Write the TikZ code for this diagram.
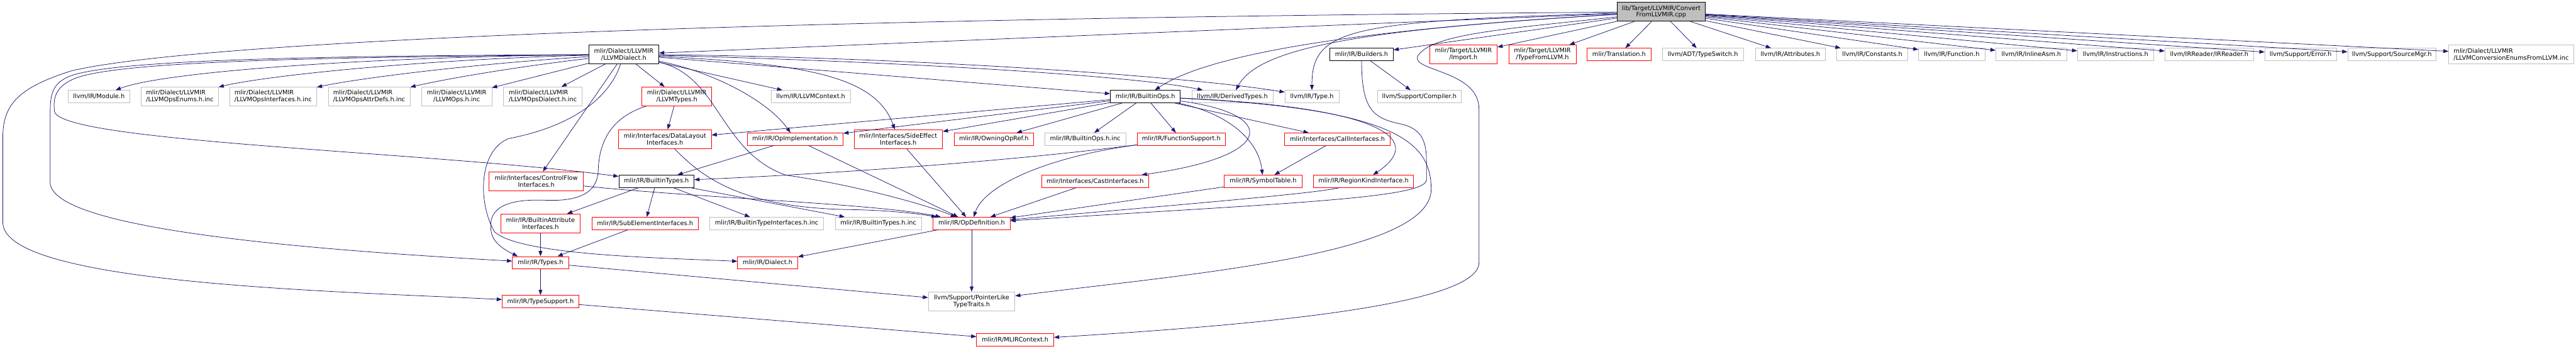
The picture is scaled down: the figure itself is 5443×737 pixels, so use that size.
\documentclass[tikz,border=0pt]{standalone}
\usepackage{fontspec}
\setmainfont{DejaVu Sans}
\usepackage{xcolor}
\usepackage{tikz}
\usetikzlibrary{arrows.meta}
\definecolor{EdgeBlue}{RGB}{25,25,112}
\definecolor{ExtGray}{RGB}{191,191,191}
\definecolor{RootGray}{RGB}{191,191,191}
\definecolor{TruncRed}{RGB}{255,0,0}

\begin{document}
\begin{tikzpicture}[x=1pt,y=-1pt,
  fbox/.style={rectangle,draw,fill=white,line width=1pt,inner xsep=3pt,inner ysep=1pt,
    minimum height=26pt,font=\fontsize{13}{14.3}\selectfont},
  gbox/.style={fbox,draw=ExtGray},
  rbox/.style={fbox,draw=TruncRed},
  kbox/.style={fbox,draw=black},
  rootbox/.style={fbox,draw=black,fill=RootGray},
  two/.style={minimum height=40pt,align=center},
  twol/.style={minimum height=40pt,align=left},
  arr/.style={-{Triangle[length=11pt,width=8pt]},line width=1pt,draw=EdgeBlue}
]
\useasboundingbox (0,0) rectangle (5443,737);

\node[rootbox,two,minimum width=186pt] (root) at (3510,25) {lib/Target/LLVMIR/Convert\\FromLLVMIR.cpp};

\node[kbox,two,minimum width=148pt] (dialect) at (1318,115) {mlir/Dialect/LLVMIR\\/LLVMDialect.h};
\node[kbox,minimum width=134pt] (builders) at (2877,115) {mlir/IR/Builders.h};
\node[rbox,two,minimum width=143pt] (import) at (3092,115) {mlir/Target/LLVMIR\\/Import.h};
\node[rbox,two,minimum width=142pt] (typefrom) at (3259,115) {mlir/Target/LLVMIR\\/TypeFromLLVM.h};
\node[rbox,minimum width=135pt] (translation) at (3421,115) {mlir/Translation.h};
\node[gbox,minimum width=171pt] (typeswitch) at (3598,115) {llvm/ADT/TypeSwitch.h};
\node[gbox,minimum width=148pt] (attributes) at (3783,115) {llvm/IR/Attributes.h};
\node[gbox,minimum width=150pt] (constants) at (3956,115) {llvm/IR/Constants.h};
\node[gbox,minimum width=140pt] (function) at (4124,115) {llvm/IR/Function.h};
\node[gbox,minimum width=150pt] (inlineasm) at (4292,115) {llvm/IR/InlineAsm.h};
\node[gbox,minimum width=161pt] (instructions) at (4470,115) {llvm/IR/Instructions.h};
\node[gbox,minimum width=187pt] (irreader) at (4668,115) {llvm/IRReader/IRReader.h};
\node[gbox,minimum width=151pt] (error) at (4861,115) {llvm/Support/Error.h};
\node[gbox,minimum width=187pt] (sourcemgr) at (5054,115) {llvm/Support/SourceMgr.h};
\node[gbox,twol,minimum width=264pt] (convenums) at (5306,115) {mlir/Dialect/LLVMIR\\/LLVMConversionEnumsFromLLVM.inc};

\node[gbox,minimum width=130pt] (module) at (209,204) {llvm/IR/Module.h};
\node[gbox,twol,minimum width=163pt] (opsenums) at (380,204) {mlir/Dialect/LLVMIR\\/LLVMOpsEnums.h.inc};
\node[gbox,twol,minimum width=184pt] (opsifaces) at (577,204) {mlir/Dialect/LLVMIR\\/LLVMOpsInterfaces.h.inc};
\node[gbox,twol,minimum width=173pt] (opsattr) at (780,204) {mlir/Dialect/LLVMIR\\/LLVMOpsAttrDefs.h.inc};
\node[gbox,two,minimum width=148pt] (opsinc) at (965,204) {mlir/Dialect/LLVMIR\\/LLVMOps.h.inc};
\node[gbox,twol,minimum width=166pt] (opsdialect) at (1147,204) {mlir/Dialect/LLVMIR\\/LLVMOpsDialect.h.inc};
\node[rbox,two,minimum width=148pt] (llvmtypes) at (1430,204) {mlir/Dialect/LLVMIR\\/LLVMTypes.h};
\node[gbox,minimum width=167pt] (context) at (1713,204) {llvm/IR/LLVMContext.h};
\node[kbox,minimum width=148pt] (builtinops) at (2420,204) {mlir/IR/BuiltinOps.h};
\node[gbox,minimum width=172pt] (derived) at (2604,204) {llvm/IR/DerivedTypes.h};
\node[gbox,minimum width=114pt] (type) at (2772,204) {llvm/IR/Type.h};
\node[gbox,minimum width=178pt] (compiler) at (2999,204) {llvm/Support/Compiler.h};

\node[rbox,two,minimum width=196pt] (datalayout) at (1405,294) {mlir/Interfaces/DataLayout\\Interfaces.h};
\node[rbox,minimum width=203pt] (opimpl) at (1680,294) {mlir/IR/OpImplementation.h};
\node[rbox,two,minimum width=187pt] (sideeffect) at (1898,294) {mlir/Interfaces/SideEffect\\Interfaces.h};
\node[rbox,minimum width=168pt] (owning) at (2100,294) {mlir/IR/OwningOpRef.h};
\node[gbox,minimum width=171pt] (builtinopsinc) at (2293,294) {mlir/IR/BuiltinOps.h.inc};
\node[rbox,minimum width=185pt] (funcsupport) at (2496,294) {mlir/IR/FunctionSupport.h};
\node[rbox,minimum width=223pt] (callifaces) at (2826,294) {mlir/Interfaces/CallInterfaces.h};

\node[rbox,two,minimum width=199pt] (controlflow) at (1133,383) {mlir/Interfaces/ControlFlow\\Interfaces.h};
\node[kbox,minimum width=159pt] (builtintypes) at (1387,383) {mlir/IR/BuiltinTypes.h};
\node[rbox,minimum width=227pt] (cast) at (2314,383) {mlir/Interfaces/CastInterfaces.h};
\node[rbox,minimum width=164pt] (symtable) at (2669,383) {mlir/IR/SymbolTable.h};
\node[rbox,minimum width=212pt] (regionkind) at (2881,383) {mlir/IR/RegionKindInterface.h};

\node[rbox,two,minimum width=168pt] (attrifaces) at (1142,472) {mlir/IR/BuiltinAttribute\\Interfaces.h};
\node[rbox,minimum width=224pt] (subelem) at (1363,472) {mlir/IR/SubElementInterfaces.h};
\node[gbox,minimum width=241pt] (typeifacesinc) at (1620,472) {mlir/IR/BuiltinTypeInterfaces.h.inc};
\node[gbox,minimum width=182pt] (builtintypesinc) at (1856,472) {mlir/IR/BuiltinTypes.h.inc};
\node[rbox,minimum width=163pt] (opdef) at (2053,472) {mlir/IR/OpDefinition.h};

\node[rbox,minimum width=119pt] (types) at (1142,555) {mlir/IR/Types.h};
\node[rbox,minimum width=127pt] (dialectir) at (1622,555) {mlir/IR/Dialect.h};
\node[rbox,minimum width=162pt] (typesupport) at (1142,637) {mlir/IR/TypeSupport.h};
\node[gbox,two,minimum width=183pt] (pointerlike) at (2053,637) {llvm/Support/PointerLike\\TypeTraits.h};
\node[rbox,minimum width=163pt] (mlircontext) at (2145,718) {mlir/IR/MLIRContext.h};

\draw[arr](root)--(dialect);
\draw[arr](root)--(builders);\draw[arr](root)--(import);\draw[arr](root)--(typefrom);
\draw[arr](root)--(translation);\draw[arr](root)--(typeswitch);\draw[arr](root)--(attributes);
\draw[arr](root)--(constants);\draw[arr](root)--(function);\draw[arr](root)--(inlineasm);
\draw[arr](root)--(instructions);\draw[arr](root)--(irreader);\draw[arr](root)--(error);
\draw[arr](root)--(sourcemgr);\draw[arr](root)--(convenums);
\draw[arr](root) .. controls (2900,60) and (2560,110) .. (builtinops);
\draw[arr](root) .. controls (2880,62) and (2660,100) .. (derived);
\draw[arr](root) .. controls (2850,45) and (2772,60) .. (type);
\draw[arr](root) .. controls (1500,40) and (400,90) .. (150,150) .. controls (40,185) and (6,220) .. (6,290)
  -- (6,470) .. controls (6,600) and (700,615) .. (typesupport);
\draw[arr](root) .. controls (3200,60) and (3020,70) .. (2995,120) .. controls (2985,150) and (3125,150) .. (3125,230)
  -- (3125,555) .. controls (3125,650) and (2600,690) .. (mlircontext);

\draw[arr](dialect) .. controls (800,120) and (350,150) .. (module);
\draw[arr](dialect) .. controls (900,125) and (560,160) .. (opsenums);
\draw[arr](dialect) .. controls (1000,135) and (760,165) .. (opsifaces);
\draw[arr](dialect) .. controls (1100,140) and (950,165) .. (opsattr);
\draw[arr](dialect)--(opsinc);\draw[arr](dialect)--(opsdialect);
\draw[arr](dialect)--(llvmtypes);\draw[arr](dialect)--(context);
\draw[arr](dialect)--(controlflow);\draw[arr](dialect)--(builtinops);
\draw[arr](dialect) .. controls (1900,120) and (2500,160) .. (type);
\draw[arr](dialect) .. controls (1900,130) and (2400,160) .. (derived);
\draw[arr](dialect) .. controls (1700,135) and (1850,160) .. (sideeffect);
\draw[arr](dialect) .. controls (1500,150) and (1620,210) .. (opimpl);
\draw[arr](dialect) .. controls (1520,160) and (1520,320) .. (1660,370) .. controls (1800,390) and (1950,430) .. (opdef);
\draw[arr](dialect) .. controls (1290,200) and (1220,265) .. (1074,293) .. controls (1010,320) and (1010,430) .. (1045,490)
  .. controls (1100,540) and (1400,545) .. (dialectir);
\draw[arr](dialect) .. controls (700,118) and (250,125) .. (150,160) .. controls (110,175) and (106,200) .. (106,240)
  -- (106,385) .. controls (106,480) and (600,525) .. (types);
\draw[arr](dialect) .. controls (700,121) and (260,128) .. (160,165) .. controls (118,182) and (112,205) .. (115,235)
  .. controls (125,300) and (900,320) .. (builtintypes);

\draw[arr](llvmtypes)--(datalayout);
\draw[arr](llvmtypes) .. controls (1300,245) and (1266,290) .. (1264,360) .. controls (1262,420) and (1200,425) .. (1150,423)
  .. controls (1060,420) and (1030,445) .. (1038,490) .. controls (1042,515) and (1070,530) .. ([xshift=12pt]types.north west);

\draw[arr](builtinops)--(datalayout);\draw[arr](builtinops)--(opimpl);
\draw[arr](builtinops)--(sideeffect);\draw[arr](builtinops)--(owning);
\draw[arr](builtinops)--(builtinopsinc);\draw[arr](builtinops)--(funcsupport);
\draw[arr](builtinops)--(callifaces);
\draw[arr](builtinops) .. controls (2700,240) and (2700,330) .. (cast);
\draw[arr](builtinops) .. controls (2600,240) and (2660,300) .. (symtable);
\draw[arr](builtinops) .. controls (2900,225) and (3020,290) .. (regionkind);
\draw[arr](builtinops) .. controls (2950,230) and (3024,300) .. (3024,400) .. controls (3024,540) and (2500,580) .. (pointerlike);

\draw[arr](builders)--(compiler);
\draw[arr](builders) .. controls (2877,230) and (2900,250) .. (2960,262) .. controls (3005,272) and (3014,300) .. (3014,340)
  -- (3014,380) .. controls (3014,420) and (2700,430) .. (opdef);

\draw[arr](datalayout) .. controls (1480,370) and (1560,440) .. (1800,443) .. controls (1900,445) and (1960,455) .. (opdef);
\draw[arr](opimpl)--(builtintypes);\draw[arr](opimpl)--(opdef);
\draw[arr](sideeffect)--(opdef);
\draw[arr](funcsupport) .. controls (2220,330) and (2080,390) .. (opdef);
\draw[arr](funcsupport) .. controls (2100,345) and (1700,370) .. (builtintypes);
\draw[arr](callifaces)--(symtable);

\draw[arr](controlflow) .. controls (1500,420) and (1850,430) .. (opdef);
\draw[arr](builtintypes)--(attrifaces);\draw[arr](builtintypes)--(subelem);
\draw[arr](builtintypes)--(typeifacesinc);\draw[arr](builtintypes)--(builtintypesinc);
\draw[arr](cast)--(opdef);\draw[arr](symtable)--(opdef);
\draw[arr](regionkind) .. controls (2780,410) and (2400,440) .. (opdef);

\draw[arr](attrifaces)--(types);\draw[arr](subelem)--(types);
\draw[arr](opdef)--(pointerlike);\draw[arr](opdef)--(dialectir);
\draw[arr](types)--(typesupport);\draw[arr](types)--(pointerlike);
\draw[arr](typesupport)--(mlircontext);
\end{tikzpicture}
\end{document}
